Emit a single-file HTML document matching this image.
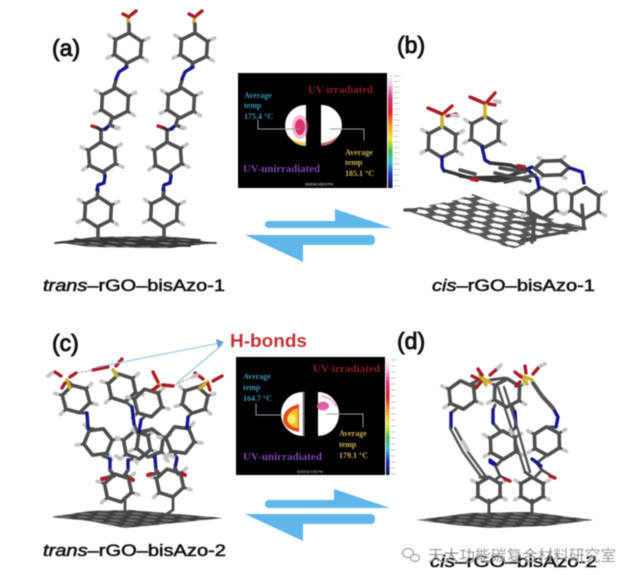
<!DOCTYPE html>
<html><head><meta charset="utf-8"><style>
html,body{margin:0;padding:0;background:#fff;width:618px;height:575px;overflow:hidden}
svg{display:block;filter:blur(.5px)}
path,line,polyline,circle{stroke-linecap:round;stroke-linejoin:round}
.c{fill:none;stroke:#4e4e4e;stroke-width:3.6}
.d{fill:none;stroke:#333;stroke-width:3.4}
.n{fill:none;stroke:#16168c;stroke-width:3.4}
.o{fill:none;stroke:#a81c28;stroke-width:3.4}
.y{fill:none;stroke:#c9b030;stroke-width:3.6}
.h{fill:none;stroke:#c4c4c4;stroke-width:3.8}
.b{fill:none;stroke:#9fcbe2;stroke-width:1.4}
.l{fill:none;stroke:#9a9aa8;stroke-width:1}
#r *{vector-effect:non-scaling-stroke}
.lab{font-family:"Liberation Sans",sans-serif;font-size:16.5px;fill:#111;stroke:#111;stroke-width:.55}
.let{font-family:"Liberation Sans",sans-serif;font-size:23px;fill:#111;stroke:#111;stroke-width:.9}
.t{font-family:"Liberation Serif",serif;font-weight:bold;font-size:8px}
</style></head><body>
<svg width="618" height="575" viewBox="0 0 618 575" xmlns="http://www.w3.org/2000/svg">
<defs>
<g id="r">
<path class="c" d="M13,-7.5L18,-10.500M13,7.5L18,10.500M-13,-7.500L-18,-10.500M-13,7.500L-18,10.500" style="stroke-width:2.8"/>
<path class="h" d="M17.500,-10L20,-11.500M17.500,10L20,11.500M-17.500,-10L-20,-11.500M-17.500,10L-20,11.500"/>
<path class="c" d="M0,-15L13,-7.500V7.500L0,15L-13,7.500V-7.500Z"/>
</g>
<pattern id="hx" width="17.32" height="30" patternUnits="userSpaceOnUse" patternTransform="matrix(1.05,.37,.72,-.17,405,210)">
<path d="M0,5L8.660,0L17.320,5M0,5V15M17.320,5V15M0,15L8.660,20L17.320,15M8.660,20V30" fill="none" stroke="#585858" stroke-width="6.500"/>
</pattern>
<pattern id="fl" width="17.32" height="30" patternUnits="userSpaceOnUse" patternTransform="matrix(1,0,.4,.22,0,0)">
<path d="M0,5L8.660,0L17.320,5M0,5V15M17.320,5V15M0,15L8.660,20L17.320,15M8.660,20V30" fill="none" stroke="#3f3f3f" stroke-width="7"/>
</pattern>
<linearGradient id="cb" x1="0" y1="0" x2="0" y2="1">
<stop offset="0" stop-color="#fff"/><stop offset=".1" stop-color="#f3c5e5"/><stop offset=".22" stop-color="#d8307a"/><stop offset=".34" stop-color="#e02020"/><stop offset=".46" stop-color="#f2a020"/><stop offset=".57" stop-color="#f0e840"/><stop offset=".68" stop-color="#40c040"/><stop offset=".78" stop-color="#30c0d0"/><stop offset=".88" stop-color="#2030c0"/><stop offset="1" stop-color="#101040"/>
</linearGradient>
<g id="mol">
<path class="y" d="M128,20L129,27"/>
<path class="o" d="M123,14L129,17M136,11L131,15"/>
<path class="c" d="M129,24L129,33"/>
<use href="#r" transform="translate(128,48) rotate(4)"/>
<path class="c" d="M127,63L126,66M116,80L114,87"/>
<path class="n" d="M127,67L122,70L119,72L116,79"/>
<use href="#r" transform="translate(115,103) rotate(3)"/>
<path class="c" d="M112,118L110,124M106,129L101,130L101,141"/>
<path class="n" d="M110,125L105,129"/>
<path class="c" d="M110,125L117,128"/>
<path class="h" d="M116,127L119,128"/>
<path class="o" d="M92,126L98,128"/>
<path class="d" d="M98,128L101,130"/>
<use href="#r" transform="translate(102,157) rotate(-4)"/>
<path class="c" d="M104,172L105,176M98,190L97,197"/>
<path class="n" d="M105,176L104,183L98,185L97,190"/>
<use href="#r" transform="translate(98,212) rotate(3)"/>
<path class="c" d="M98,227V239"/>
</g>
</defs>

<rect width="618" height="575" fill="#fff"/>

<!-- a -->
<text class="let" x="52" y="56">(a)</text>
<use href="#mol"/>
<use href="#mol" transform="translate(66,0)"/>
<path d="M56,242L95,237L165,236L215,243L170,248L90,247Z" fill="#777"/>
<path d="M56,242L95,237L165,236L215,243L170,248L90,247Z" fill="url(#fl)"/>
<path class="d" d="M55,243L100,240L150,241L216,243M75,239L120,245L190,246M100,238L165,245M130,246L175,238L200,240" style="stroke-width:1.8"/>
<text class="lab" x="43" y="291" textLength="182" lengthAdjust="spacingAndGlyphs"><tspan font-style="italic">trans</tspan>–rGO–bisAzo-1</text>

<!-- b -->
<text class="let" x="397" y="53">(b)</text>
<polygon points="405,210 456,200 473,194 500,205 587,228 570,234 545,236 513,249" fill="url(#hx)"/>
<path class="c" d="M405,210H416"/>
<path class="c" d="M515,222L585,229M522,240L565,232M530,210L535,240" style="stroke-width:3"/>
<use href="#r" transform="translate(442,142) rotate(2) scale(1.03)"/>
<use href="#r" transform="translate(485,132) rotate(2) scale(1.03)"/>
<use href="#r" transform="translate(542,203) rotate(-3) scale(1.03)"/>
<use href="#r" transform="translate(585,203) rotate(2) scale(1.03)"/>
<use href="#r" transform="translate(552,168) rotate(88) scale(.55,1.15)"/>
<path class="y" d="M442,127V114M485,117V103"/>
<path class="o" d="M428,108L442,114M452,106L444,113M447,116L456,114M470,97L484,103M495,93L487,102M489,104L495,105"/>
<path class="h" d="M452,115L458,116M495,101L500,102"/>
<path class="n" d="M442,157L442,167L444,171M482,147L485,160L490,163M520,172L532,167M570,168L582,172L584,183M528,170L537,178L539,188"/>
<path class="d" d="M446,171L470,178L505,177L528,170M490,163L510,165L525,170M460,176L495,181L520,178"/>
<path class="c" d="M460,170L475,174M500,168L525,172M505,182L535,175M495,173L530,181"/>
<path class="o" d="M472,179L477,180M518,166L524,167" style="stroke-width:4"/>
<path class="c" d="M582,205L584,228M535,218L532,242"/>
<text class="lab" x="432" y="291" textLength="163" lengthAdjust="spacingAndGlyphs"><tspan font-style="italic">cis</tspan>–rGO–bisAzo-1</text>

<!-- c -->
<text class="let" x="52" y="351">(c)</text>
<path d="M51,517L90,511L130,510L165,513L223,518L175,523L125,528L90,521Z" fill="#6a6a6a"/>
<path d="M51,517L90,511L130,510L165,513L223,518L175,523L125,528L90,521Z" fill="url(#fl)"/>
<path class="c" d="M125,500V514M173,497V510L165,515" style="stroke-width:2.800"/>
<use href="#r" transform="translate(118,488) rotate(-12) scale(.95)"/>
<use href="#r" transform="translate(170,483) rotate(-12) scale(.95)"/>
<use href="#r" transform="translate(98,442) rotate(22) scale(.95)"/>
<use href="#r" transform="translate(137,445) rotate(-10) scale(.95)"/>
<use href="#r" transform="translate(150,443) rotate(8) scale(.95)"/>
<use href="#r" transform="translate(180,440) rotate(-22) scale(.95)"/>
<use href="#r" transform="translate(76,399) rotate(-15) scale(.95)"/>
<use href="#r" transform="translate(122,388) rotate(-12) scale(.95)"/>
<use href="#r" transform="translate(148,403) rotate(-14) scale(.95)"/>
<use href="#r" transform="translate(195,400) rotate(12) scale(.9)"/>
<path class="c" d="M67,380L72,385M113,370L118,375M160,385L152,390M208,382L198,387M80,413L87,413M88,428L94,429M103,456L110,459M126,402L132,407M134,424L137,431M134,459L128,460M144,417L141,420M139,432L147,430M153,457L155,457M192,413L188,417M187,428L186,427M175,454L177,458" style="stroke-width:3"/>
<path class="n" d="M87,413L88,428M132,407L134,424M141,420L139,432M188,417L187,428M110,459V470M128,460V470M155,457L156,470M177,458L175,468"/>
<path class="c" d="M110,470L114,476M128,470L124,476M156,470L160,475M175,468L178,474M103,479L112,476M133,480L127,476M148,475L158,473M185,475L178,473"/>
<path class="o" d="M102,479L106,478M133,480L131,479M148,475L151,474M185,475L183,474" style="stroke-width:4"/>
<path class="h" d="M116,456L119,458M135,460L137,463M165,458L168,461M173,457L170,455"/>
<path class="y" d="M67,380L70,388M113,370L117,376M160,385L153,390M208,382L200,388"/>
<path class="o" d="M55,372L61,376M76,373L70,377M62,388L65,383M93,370L108,367M122,359L116,366M153,372L158,382M173,386L163,385M153,390L158,386M195,373L203,379M222,376L213,381M210,390L208,384"/>
<path class="h" d="M48,376L52,373M193,377L197,375"/>
<path d="M77,373L93,370M175,385L193,377" stroke="#999" stroke-width="1" stroke-dasharray="2 2" fill="none"/>
<path class="b" d="M97,367L220,343M177,383L222,345"/>
<path d="M216,339L224,342L218,348Z" fill="#5a9fd0"/>
<text class="lab" x="43" y="556" textLength="183" lengthAdjust="spacingAndGlyphs"><tspan font-style="italic">trans</tspan>–rGO–bisAzo-2</text>
<text x="230" y="347" font-family="'Liberation Sans',sans-serif" font-size="18.5" font-weight="bold" fill="#c2323c" textLength="77" lengthAdjust="spacingAndGlyphs">H-bonds</text>

<!-- d -->
<text class="let" x="397" y="349">(d)</text>
<path d="M417,520L470,513L530,512L593,520L545,526L490,528L455,525Z" fill="#6a6a6a"/>
<path d="M417,520L470,513L530,512L593,520L545,526L490,528L455,525Z" fill="url(#fl)"/>
<path class="c" d="M489,500V517M532,500V515" style="stroke-width:3"/>
<use href="#r" transform="translate(489,490) scale(.85)"/>
<use href="#r" transform="translate(532,490) scale(.85)"/>
<use href="#r" transform="translate(547,441) rotate(-2) scale(.95)"/>
<use href="#r" transform="translate(503,445) rotate(-2) scale(.95)"/>
<use href="#r" transform="translate(462,395) rotate(-6) scale(.95)"/>
<use href="#r" transform="translate(507,393) rotate(2) scale(.95)"/>
<path class="c" d="M482,378L471,384M505,378L490,380M456,409L451,413M495,405L493,410M515,412L512,406M548,427L556,427M500,431L493,423M516,427L510,433M503,459L497,465M547,455L538,462M480,477L489,477M525,472L532,477" style="stroke-width:3"/>
<path class="n" d="M451,413L451,427M493,410L493,423M515,412L516,427M553,408L558,417L556,427M495,465L490,462M536,462L532,459"/>
<path d="M450,428L463,452L482,478M455,428L468,452L487,478" fill="none" stroke="#555" stroke-width="2.400"/>
<path d="M498,387L512,430L525,472M504,387L518,430L530,472" fill="none" stroke="#555" stroke-width="2.400"/>
<path d="M533,383L542,396L553,408" fill="none" stroke="#555" stroke-width="4"/>
<path class="h" d="M463,442L468,450M510,430L512,434"/>
<path class="c" d="M495,465L500,476L495,480M536,462L542,470L536,476M500,476L508,480M542,470L553,477" style="stroke-width:2.800"/>
<path class="o" d="M505,479L510,481M550,476L555,478" style="stroke-width:3.400"/>
<path class="n" d="M495,464L490,460M536,462L541,466"/>
<path class="y" d="M482,378L490,382M525,377L532,380M480,375L486,385M521,375L527,384" style="stroke-width:3.6"/>
<path class="o" d="M472,376L478,379M478,369L482,375M498,368L490,375M481,382L476,388M515,372L521,377M525,366L526,373M540,366L533,374M520,382L516,386"/>
<path class="h" d="M498,368L501,365M540,366L545,364"/>
<text class="lab" x="430" y="567" textLength="167" lengthAdjust="spacingAndGlyphs"><tspan font-style="italic">cis</tspan>–rGO–bisAzo-2</text>
<g fill="none" stroke="#aaa" stroke-width="1.4"><ellipse cx="408" cy="553" rx="5.500" ry="4.500" fill="#fff"/><ellipse cx="415" cy="558" rx="4.500" ry="3.500" fill="#fff"/></g>
<text x="428" y="561" font-family="'Liberation Sans','Noto Sans CJK SC',sans-serif" font-size="15.5" fill="#777" stroke="#fff" stroke-opacity=".5" stroke-width=".5" textLength="188" lengthAdjust="spacingAndGlyphs">天大功能碳复合材料研究室</text>

<!-- thermal 1 -->
<rect x="238" y="73" width="149" height="115" fill="#000"/>
<rect x="388" y="73" width="4.500" height="115" fill="url(#cb)"/>
<path d="M394,76H400M394,81.500H399M394,87H399M394,92.500H399M394,98H399M394,103.500H399M394,109H399M394,114.500H399M394,120H399M394,125.500H399M394,131H399M394,136.500H399M394,142H399M394,147.500H399M394,153H399M394,158.500H399M394,164H399M394,169.500H399M394,175H399M394,180.500H399M394,186H400" stroke="#c9c9c9" stroke-width="1" fill="none"/>
<path d="M306,105A20.500,20.500 0 0 0 306,146Z" fill="#e8d060"/>
<path d="M306,105A20.500,20.500 0 0 0 288,136Q296,143 306,142Z" fill="#fff"/>
<ellipse cx="300" cy="127" rx="8" ry="12" fill="#ee88b0" fill-opacity=".6"/><ellipse cx="300" cy="127" rx="5" ry="8" fill="#e0306f"/>
<path d="M321,105A20.500,20.500 0 0 1 321,146Z" fill="#c86a7c"/>
<path d="M321,105A20.500,20.500 0 0 1 340,134Q332,142 321,143Z" fill="#fff"/>
<path class="l" d="M258,120V129H300M330,129H364V140"/>
<text class="t" fill="#3b93b5"><tspan x="244" y="98">Average</tspan><tspan x="244" y="108">temp</tspan><tspan x="244" y="119">175.4 °C</tspan></text>
<text class="t" x="308" y="93" fill="#8e1c22" style="font-size:10.5px" textLength="65" lengthAdjust="spacingAndGlyphs">UV-irradiated</text>
<text class="t" x="243" y="172" fill="#7c44ae" style="font-size:11px" textLength="77" lengthAdjust="spacingAndGlyphs">UV-unirradiated</text>
<text class="t" fill="#cfae58"><tspan x="345" y="155">Average</tspan><tspan x="345" y="165">temp</tspan><tspan x="345" y="176">185.1 °C</tspan></text>
<text x="305" y="185.500" fill="#ddd" font-family="'Liberation Sans',sans-serif" font-size="3.5" textLength="28">5/3/2018 3:56:20 PM</text>

<!-- arrows 1 -->
<path d="M335,209L392,228H269Q265,228 265,224.500Q265,221 269,221H335Z" fill="#5fb6ea"/>
<path d="M245,235H371Q375,235 375,240Q375,245 371,245H303V262Z" fill="#5fb6ea"/>

<!-- thermal 2 -->
<rect x="236" y="357" width="149" height="118" fill="#000"/>
<rect x="386" y="357" width="3.500" height="118" fill="url(#cb)"/>
<path d="M391,360H396M391,366H395M391,372H395M391,378H395M391,384H395M391,390H395M391,396H395M391,402H395M391,408H395M391,414H395M391,420H395M391,426H395M391,432H395M391,438H395M391,444H395M391,450H395M391,456H395M391,462H395M391,468H395M391,474H396" stroke="#c9c9c9" stroke-width="1" fill="none"/>
<path d="M303,392A22,22 0 0 0 303,436Z" fill="#fff"/>
<path d="M299,404Q283,408 283,420Q285,430 299,432Z" fill="#e04a20"/>
<path d="M298,408Q287,412 287,420Q289,427 298,428Z" fill="#f5c020"/>
<ellipse cx="292" cy="419" rx="4" ry="5" fill="#f8ea70"/>
<path d="M318,392A21,22 0 0 1 318,436Z" fill="#fff"/>
<ellipse cx="323" cy="406" rx="6" ry="4.500" fill="#e060a8"/>
<path d="M322,396Q332,398 336,406" stroke="#f0b0d0" stroke-width="2" fill="none"/>
<path d="M304,392V436" stroke="#ccc" stroke-width=".8" stroke-dasharray="2 1"/>
<path class="l" d="M256,404V415H282M327,414H363V427"/>
<text class="t" fill="#3b93b5"><tspan x="243" y="379">Average</tspan><tspan x="243" y="390">temp</tspan><tspan x="243" y="401">164.7 °C</tspan></text>
<text class="t" x="313" y="372" fill="#8e1c22" style="font-size:10.5px" textLength="67" lengthAdjust="spacingAndGlyphs">UV-irradiated</text>
<text class="t" x="243" y="460" fill="#7c44ae" style="font-size:11px" textLength="79" lengthAdjust="spacingAndGlyphs">UV-unirradiated</text>
<text class="t" fill="#cfae58"><tspan x="339" y="436">Average</tspan><tspan x="339" y="447">temp</tspan><tspan x="339" y="458">179.1 °C</tspan></text>
<text x="297" y="473" fill="#ccc" font-family="'Liberation Sans',sans-serif" font-size="3.5" textLength="26">5/3/2018 3:56 PM</text>

<!-- arrows 2 -->
<path d="M334,489L390,508H269Q265,508 265,504Q265,500 269,500H334Z" fill="#5fb6ea"/>
<path d="M245,514H371Q375,514 375,519Q375,524 371,524H303V541Z" fill="#5fb6ea"/>
</svg>
</body></html>
